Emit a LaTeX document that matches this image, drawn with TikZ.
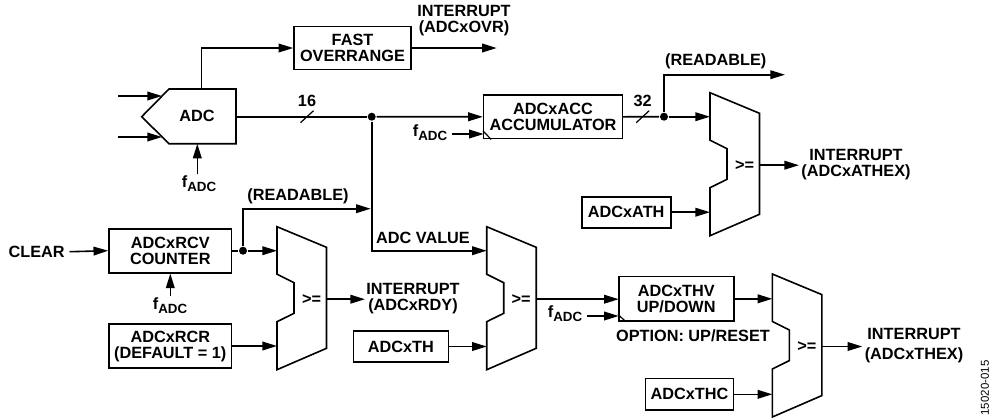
\documentclass[tikz,border=0pt]{standalone}
\usepackage{fontspec}
\setmainfont{Liberation Sans}
\usetikzlibrary{arrows.meta}

\newcommand{\fadc}{f\raisebox{-0.45ex}{\fontsize{10}{10}\selectfont ADC}}

\tikzset{every picture/.style={line width=1.2pt},
    lbl/.style={font=\bfseries\fontsize{12.2}{12}\selectfont,inner sep=0.75pt,align=center},
    blockbox/.style={draw,inner sep=0pt,font=\bfseries\fontsize{12.2}{12}\selectfont,align=center},
    sig/.style={-{Triangle[length=11pt,width=6.5pt]}},
    junction/.style={circle,fill,inner sep=0pt,minimum size=6pt},
    cmpmux/.pic={
        \draw (0,0) -- (49.5,-20.6) -- (49.5,-121.6) -- (0,-143) -- (0,-95) -- (17,-86.6) -- (17,-56) -- (0,-47.5) -- cycle ;
        \coordinate (in1) at (0,-24);
        \coordinate (in2) at (0,-119);
        \coordinate (out) at (49.5,-72.5);
        \node[lbl] (sign) at (34.5,-72.8) {>=};
    }
}

\begin{document}
\begin{tikzpicture}[x=0.75pt,y=0.75pt,yscale=-1,xscale=1]
    \useasboundingbox (0,0) rectangle (991,419);

    %Shape: ADC
    \draw (141.7,116.7) -- (169,89) -- (236,89) -- (236,143.7) -- (169,143.7) -- cycle ;
    \node[lbl] (adc) at (197,116) {ADC};
    \coordinate (adcup) at (201.3,89);
    \coordinate (adcout) at (236,116.7);
    \coordinate (adcina) at (162,96);
    \coordinate (adcinb) at (162,137);
    \coordinate (adcclk) at (197.3,143.7);
    \coordinate (adcstarta) at (118,96);
    \coordinate (adcstartb) at (118,137);

    %Shape: Boxes
    \node[blockbox,minimum width=87.75pt,minimum height=32.25pt] (fast) at (352.5,48) {FAST\\OVERRANGE};
    \node[blockbox,minimum width=104pt,minimum height=32.75pt] (acc) at (553,116.8) {ADCxACC\\ACCUMULATOR};
    \node[blockbox,minimum width=66.75pt,minimum height=23.25pt] (ath) at (626.2,212.2) {ADCxATH};
    \node[blockbox,minimum width=92pt,minimum height=33pt] (rcv) at (170.3,250.7) {ADCxRCV\\COUNTER};
    \node[blockbox,minimum width=92pt,minimum height=33pt] (rcr) at (170.3,346) {ADCxRCR\\(DEFAULT = 1)};
    \node[blockbox,minimum width=71.25pt,minimum height=23.25pt] (th) at (400.8,346.5) {ADCxTH};
    \node[blockbox,minimum width=86.25pt,minimum height=33.25pt] (thv) at (676.2,298.8) {ADCxTHV\\UP/DOWN};
    \node[blockbox,minimum width=66.25pt,minimum height=23.5pt] (thc) at (689.5,394.3) {ADCxTHC};

    %Shape: Comparators
    \pic (cmpa) at (710,92.7) {cmpmux};
    \pic (cmpb) at (277,226.7) {cmpmux};
    \pic (cmpc) at (486.7,226.7) {cmpmux};
    \pic (cmpd) at (772.3,274) {cmpmux};

    %Shape: Junctions
    \node[junction] (dotadc) at (371.7,116.7) {};
    \node[junction] (dotacc) at (664,116.7) {};
    \node[junction] (dotrcv) at (243,250.7) {};

    % Text Node
    \node[lbl] (ovrtxt) at (464,20.5) {INTERRUPT\\(ADCxOVR)};
    \node[lbl] (clkadc) at (199,184) {\fadc};
    \node[lbl] (num16) at (307,100.5) {16};
    \node[lbl] (clkacc) at (430,133) {\fadc};
    \node[lbl] (num32) at (642.7,100.7) {32};
    \node[lbl] (rdacc) at (715.7,61.5) {(READABLE)};
    \node[lbl] (athextxt) at (856,164.5) {INTERRUPT\\(ADCxATHEX)};
    \node[lbl] (rdrcv) at (298,196.7) {(READABLE)};
    \node[lbl] (adcval) at (423,237.7) {ADC VALUE};
    \node[lbl] (clear) at (36.7,251.7) {CLEAR};
    \node[lbl] (clkrcv) at (170,305.7) {\fadc};
    \node[lbl] (rdytxt) at (413,298.3) {INTERRUPT\\(ADCxRDY)};
    \node[lbl] (clkthv) at (565,314) {\fadc};
    \node[lbl] (option) at (693,336) {OPTION: UP/RESET};
    \node[lbl] (thextxt) at (914,345.5) {INTERRUPT\\[2.5pt](ADCxTHEX)};
    \node[font=\fontsize{8.6}{8.6}\selectfont,inner sep=0pt,rotate=90] (figid) at (985,388) {15020-015};

    %Free ends
    \coordinate (ovrend) at (496.7,48);
    \coordinate (rdaccend) at (785,74.7);
    \coordinate (athexend) at (799,165.2);
    \coordinate (rdrcvend) at (370.7,208.7);
    \coordinate (rdyend) at (365,299.2);
    \coordinate (thexend) at (862.3,346.5);
    \coordinate (accclk) at (483.7,134);
    \coordinate (thvclk) at (618.7,316);
    \coordinate (thvin) at (618.7,299.2);

    %Straight Lines
    \draw[sig] (adcstarta) -- (adcina);
    \draw[sig] (adcstartb) -- (adcinb);
    \draw[sig] (adcup) |- (fast.west);
    \draw[sig] (fast.east) -- (ovrend);
    \draw (adcout) -- (dotadc);
    \draw[sig] (dotadc) -- (acc.west);
    \draw[sig] (clkadc.north -| adcclk) -- (adcclk);
    \draw[sig] (clkacc.east) ++(3,1) -- (accclk);
    \draw (acc.east) -- (dotacc);
    \draw[sig] (dotacc) -- (cmpain1);
    \draw[sig] (dotacc) |- (rdaccend);
    \draw[sig] (ath.east) -- (ath.east -| cmpain2);
    \draw[sig] (cmpaout) -- (athexend);
    \draw[sig] (clear.east) ++(3,0) -- (rcv.west);
    \draw (rcv.east) -- (dotrcv);
    \draw[sig] (dotrcv) -- (cmpbin1);
    \draw[sig] (dotrcv) |- (rdrcvend);
    \draw[sig] (clkrcv.north -| rcv.south) -- (rcv.south);
    \draw[sig] (rcr.east) -- (rcr.east -| cmpbin2);
    \draw[sig] (cmpbout) -- (rdyend);
    \draw[sig] (dotadc) |- (cmpcin1);
    \draw[sig] (th.east) -- (th.east -| cmpcin2);
    \draw[sig] (cmpcout) -- (thvin);
    \draw[sig] (clkthv.east) ++(3,2) -- (thvclk);
    \draw[sig] (thv.east) -- (thv.east -| cmpdin1);
    \draw[sig] (thc.east) -- (thc.east -| cmpdin2);
    \draw[sig] (cmpdout) -- (thexend);

    %Bus ticks and clock marks
    \draw[line width=0.9pt] (307,116.7) ++(-6.5,6) -- ++(13,-12);
    \draw[line width=0.9pt] (642.7,116.7) ++(-6.5,6) -- ++(13,-12);
    \draw[line width=0.9pt] (acc.south west) ++(0,-8.7) -- ++(8.3,8.7);
    \draw[line width=0.9pt] (thv.south west) ++(0,-7.5) -- ++(8,7.5);
\end{tikzpicture}
\end{document}
